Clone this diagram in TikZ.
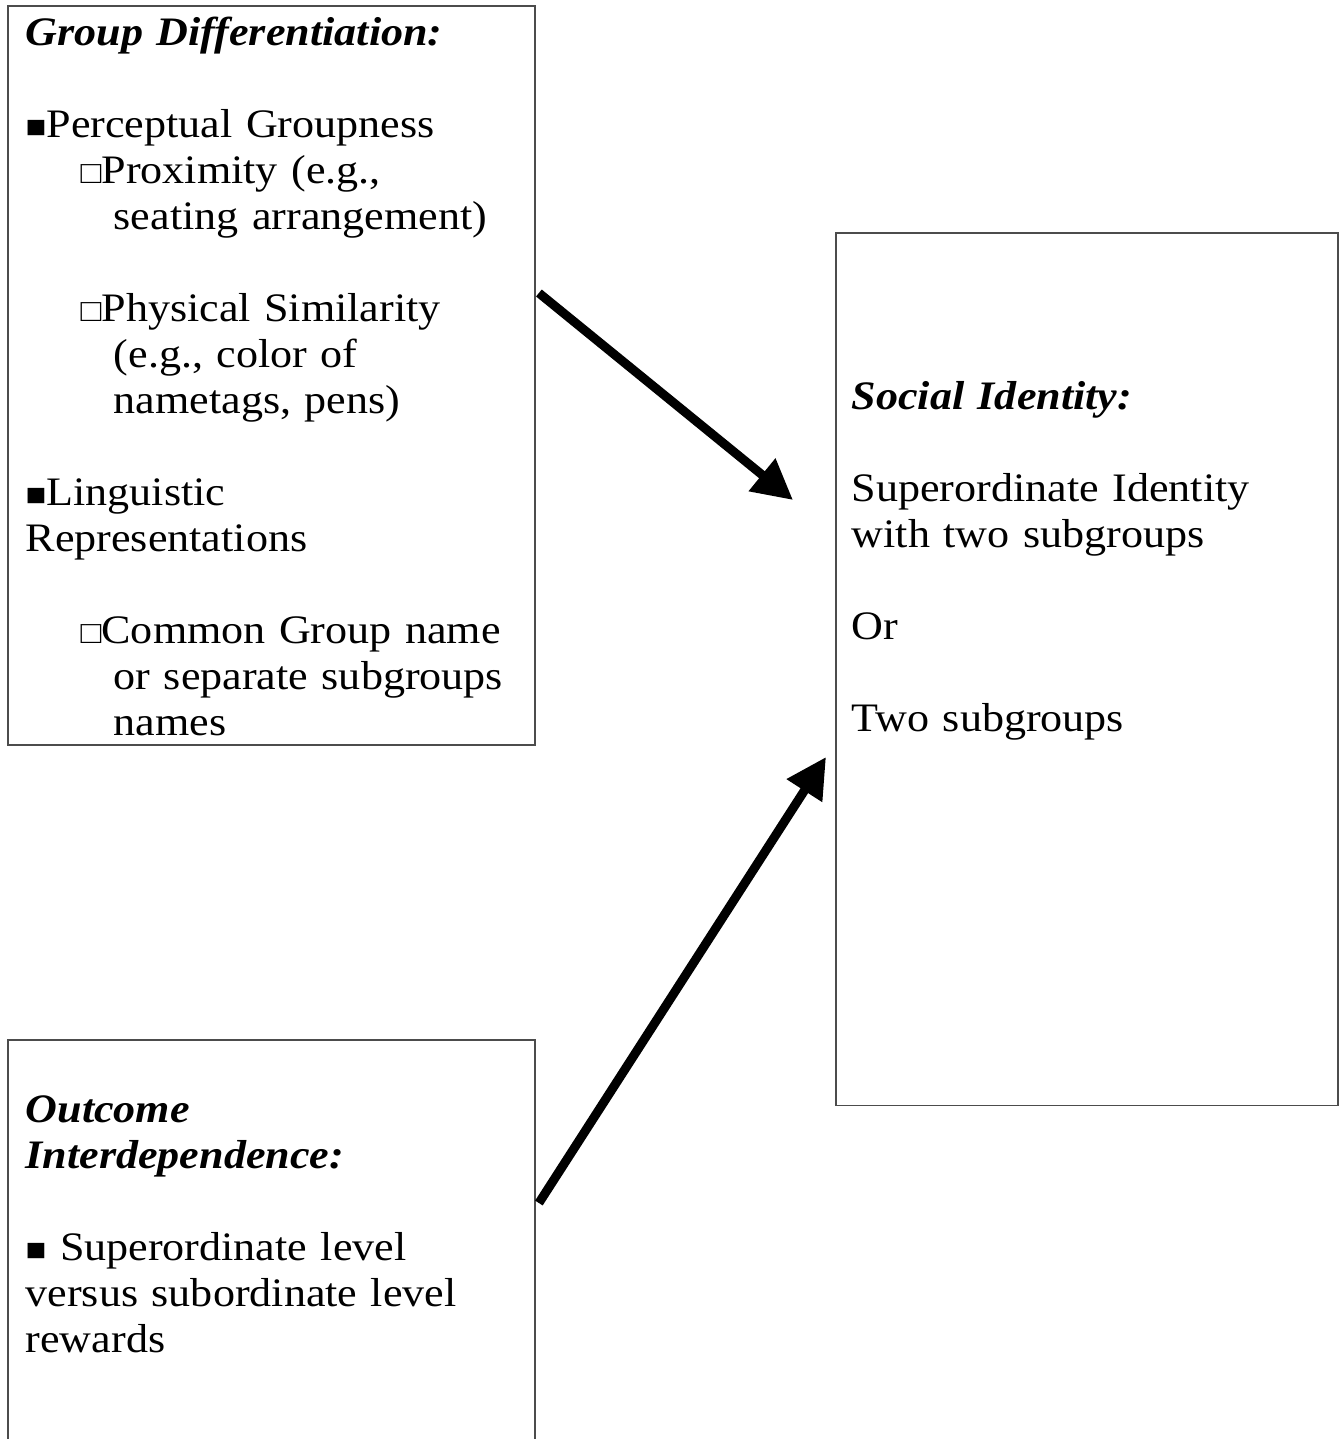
\documentclass[tikz,border=0pt]{standalone}
\usepackage{fontspec}
\setmainfont[FakeStretch=1.09]{Liberation Serif}
\usetikzlibrary{arrows.meta,positioning,calc}

\newcommand{\fullsq}{{\small ■}}
\newcommand{\emptysq}{{\small □}}

\begin{document}
\begin{tikzpicture}[x=0.01cm, y=-0.01cm, font=\fontsize{11.5}{13.09}\selectfont,
  box/.style={draw=black!70, line width=0.45pt, inner sep=0, anchor=north west},
  txt/.style={anchor=base west, align=left, inner sep=0, text width=6cm},
  bigarrow/.style={-{Triangle[length=0.40cm,width=0.40cm]}, line width=0.09cm}]

\useasboundingbox (0,0) rectangle (1338,1439);

% the three boxes
\node[box, minimum width=5.27cm, minimum height=7.39cm] (gd) at (7,5) {};
\node[box, minimum width=5.27cm, minimum height=4.60cm] (oi) at (7,1039) {};
\node[box, minimum width=5.02cm, minimum height=8.72cm] (si) at (835,232) {};

% their texts
\node[txt] (gdtext) at (25,45) {\textbf{\textit{Group Differentiation:}}\\[0.46cm]
\fullsq Perceptual Groupness\\
\hspace*{0.55cm}\emptysq Proximity (e.g.,\\
\hspace*{0.88cm}seating arrangement)\\[0.46cm]
\hspace*{0.55cm}\emptysq Physical Similarity\\
\hspace*{0.88cm}(e.g., color of\\
\hspace*{0.88cm}nametags, pens)\\[0.46cm]
\fullsq Linguistic\\
Representations\\[0.46cm]
\hspace*{0.55cm}\emptysq Common Group name\\
\hspace*{0.88cm}or separate subgroups\\
\hspace*{0.88cm}names};

\node[txt] (oitext) at (25,1122) {\textbf{\textit{Outcome}}\\
\textbf{\textit{Interdependence:}}\\[0.46cm]
\fullsq{} Superordinate level\\
versus subordinate level\\
rewards};

\node[txt] (sitext) at (851,409) {\textbf{\textit{Social Identity:}}\\[0.46cm]
Superordinate Identity\\
with two subgroups\\[0.46cm]
Or\\[0.46cm]
Two subgroups};

% arrows into the social identity box
\coordinate (tipA) at (793,500);
\coordinate (tipB) at (826,757);
\draw[bigarrow] ($(gd.north east)+(3,288)$) -- (tipA);
\draw[bigarrow] ($(oi.north east)+(3,164)$) -- (tipB);

\end{tikzpicture}
\end{document}
